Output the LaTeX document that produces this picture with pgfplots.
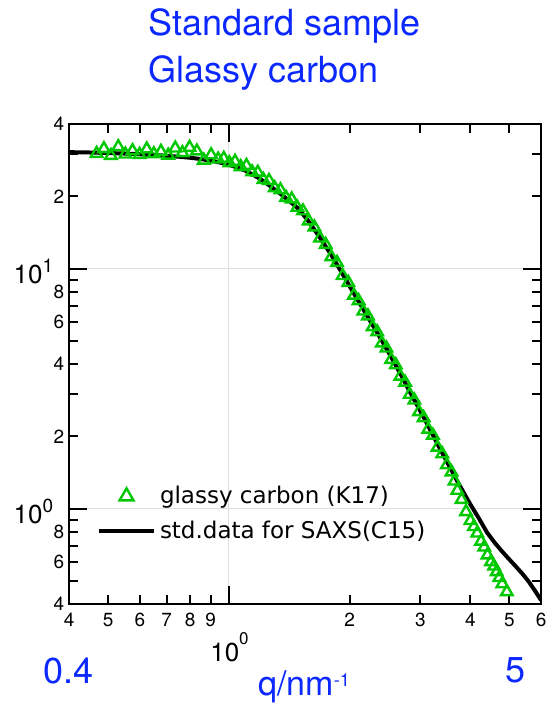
\documentclass[border=0pt]{standalone}
\usepackage{fontspec}
\setmainfont{TeX Gyre Heros}
\newfontfamily\legfont{DejaVu Sans}
\usepackage{pgfplots}
\pgfplotsset{compat=1.18}
\definecolor{gcgreen}{RGB}{0,200,0}
\definecolor{tblue}{RGB}{10,40,255}
\definecolor{gridgray}{RGB}{222,222,222}
\begin{document}
\begin{tikzpicture}
\useasboundingbox (-34.65pt,-53.5pt) rectangle (243pt,302.15pt);
\begin{axis}[
  xmode=log, ymode=log,
  scale only axis, width=236pt, height=240pt,
  xmin=0.4, xmax=6, ymin=0.4, ymax=40,
  axis line style={line width=1pt},
  tick style={line width=1pt, black},
  tick align=inside,
  xtick={0.4,0.5,0.6,0.7,0.8,0.9,2,3,4,5,6},
  xticklabels={4,5,6,7,8,9,2,3,4,5,6},
  ytick={0.4,0.5,0.6,0.7,0.8,0.9,2,3,4,5,6,7,8,9,20,30,40},
  yticklabels={4,,6,,8,,2,,4,,6,,8,,2,,4},
  minor xtick={}, minor ytick={},
  major tick length=4.5pt,
  extra x ticks={1}, extra y ticks={1,10},
  extra x tick labels={}, extra y tick labels={},
  extra tick style={major tick length=9pt, grid=major, major grid style={gridgray, line width=0.5pt}},
  tick label style={font=\fontsize{9.5}{9.5}\selectfont},
  xticklabel style={yshift=-1pt},
  yticklabel style={xshift=1pt},
  /pgf/number format/assume math mode=true,
  legend image code/.code={\draw[mark repeat=2,mark phase=2,#1] plot coordinates {(0pt,0pt) (13.75pt,0pt) (27.5pt,0pt)};},
  legend style={at={(0.058,0.255)}, anchor=north west, draw=none, fill=none,
    font=\legfont\fontsize{11.5}{11.5}\selectfont, row sep=3pt, inner sep=0pt,
    cells={anchor=west}},
]
\addplot[only marks, mark=triangle, mark size=3.3pt, gcgreen, mark options={line width=1.2pt}, legend image post style={mark size=4pt}] coordinates {
(0.468,30.2)(0.488,31.6)(0.508,29.6)(0.530,32.2)(0.552,30.0)(0.575,31.0)(0.599,29.9)(0.624,31.5)(0.650,30.1)(0.677,30.8)(0.706,29.7)(0.735,31.8)(0.766,30.4)(0.798,32.0)(0.832,30.9)(0.866,28.3)(0.903,29.8)(0.940,28.6)
(0.971,28.8)(1.003,27.6)(1.036,28.0)(1.070,26.6)(1.106,26.9)(1.142,25.3)(1.180,25.2)(1.219,23.5)(1.259,23.3)(1.301,21.7)(1.344,21.3)(1.388,19.8)(1.434,19.5)(1.481,18.0)(1.530,17.4)(1.581,15.8)(1.633,14.9)(1.687,13.4)(1.743,12.6)(1.800,11.2)(1.860,10.6)(1.921,9.35)(1.985,8.75)(2.050,7.75)
(2.105,7.35)(2.162,6.65)(2.221,6.35)(2.281,5.72)(2.342,5.45)(2.406,4.90)(2.470,4.66)(2.537,4.18)(2.606,3.97)(2.676,3.56)(2.749,3.36)(2.823,2.99)(2.899,2.83)(2.977,2.53)(3.058,2.39)(3.140,2.14)(3.225,2.02)(3.312,1.80)(3.402,1.69)(3.493,1.52)(3.588,1.42)(3.65,1.30)
(3.71,1.19)(3.80,1.09)(3.90,0.97)(4.00,0.89)(4.08,0.84)(4.16,0.79)(4.25,0.73)(4.33,0.69)(4.41,0.64)(4.50,0.60)(4.58,0.575)(4.65,0.545)(4.72,0.515)(4.80,0.485)(4.93,0.45)
};
\addlegendentry{glassy carbon (K17)}
\addplot[black, line width=2pt, mark=none] coordinates {
(0.40,30.6)(0.45,30.5)(0.50,30.35)(0.55,30.2)(0.60,30.0)(0.65,29.8)(0.70,29.55)(0.75,29.3)(0.80,29.0)(0.85,28.65)(0.90,28.2)(0.95,27.7)(1.00,27.1)(1.05,26.4)(1.10,25.6)(1.15,24.6)(1.20,23.6)(1.25,22.5)(1.30,21.4)(1.35,20.4)(1.40,19.4)(1.45,18.5)(1.50,17.6)(1.55,16.4)(1.60,15.3)(1.70,13.2)(1.80,11.4)(1.90,9.8)(2.00,8.45)(2.10,7.35)(2.20,6.45)(2.30,5.70)(2.40,5.05)(2.50,4.48)(2.60,3.98)(2.70,3.55)(2.80,3.15)(2.90,2.83)(3.00,2.55)(3.10,2.30)(3.20,2.08)(3.30,1.88)(3.40,1.71)(3.50,1.56)(3.60,1.43)(3.70,1.31)(3.80,1.21)(3.90,1.12)(4.00,1.04)(4.20,0.91)(4.40,0.795)(4.60,0.72)(4.80,0.662)(5.00,0.614)(5.20,0.572)(5.40,0.533)(5.60,0.494)(5.80,0.453)(6.00,0.415)
};
\addlegendentry{std.data for SAXS(C15)}
\end{axis}
\begin{scope}[every node/.style={inner sep=0pt, anchor=base west}]
\node[text=tblue, font=\fontsize{18}{18}\selectfont] at (39.35pt,284.5pt) {Standard sample};
\node[text=tblue, font=\fontsize{18}{18}\selectfont] at (39.35pt,261pt) {Glassy carbon};
\node[text=tblue, font=\fontsize{18}{18}\selectfont] at (-13.15pt,-39.5pt) {0.4};
\node[text=tblue, font=\fontsize{18}{18}\selectfont] at (217.85pt,-39pt) {5};
\node[text=tblue, font=\fontsize{17}{17}\selectfont] at (94.35pt,-45.5pt) {q/nm\raisebox{4.5pt}{\fontsize{9}{9}\selectfont -1}};
\node[font=\fontsize{13}{13}\selectfont] at (70.35pt,-28.85pt) {10\raisebox{8.5pt}{\fontsize{8.5}{8.5}\selectfont 0}};
\node[font=\fontsize{13}{13}\selectfont] at (-28pt,160.5pt) {10\raisebox{5.5pt}{\fontsize{9.5}{9.5}\selectfont 1}};
\node[font=\fontsize{13}{13}\selectfont] at (-28pt,40.5pt) {10\raisebox{5.5pt}{\fontsize{9.5}{9.5}\selectfont 0}};
\end{scope}
\end{tikzpicture}
\end{document}
